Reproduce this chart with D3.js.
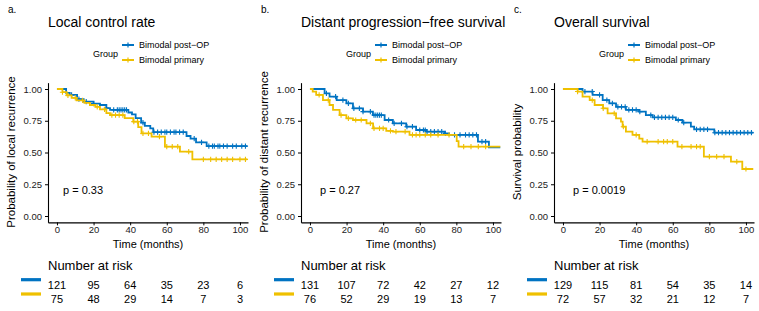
<!DOCTYPE html>
<meta charset="utf-8">
<script src="https://d3js.org/d3.v7.min.js"></script>
<style>
  body { margin: 0; background: #fff; }
  text { font-family: "Liberation Sans", Arial, sans-serif; }
</style>
<body>
<div id="chart"></div>
<script>

// ---- data ---------------------------------------------------------------
var groups = ["Bimodal post\u2212OP", "Bimodal primary"];
var timeTicks = [0, 20, 40, 60, 80, 100];
var survTicks = [0, 0.25, 0.5, 0.75, 1];

var panelTags = ["a.", "b.", "c."];
var titles = ["Local control rate", "Distant progression\u2212free survival", "Overall survival"];
var yLabels = ["Probability of local recurrence", "Probability of distant recurrence", "Survival probability"];
var pValues = ["p = 0.33", "p = 0.27", "p = 0.0019"];

// drops of the step curves: [time, survival]
var localPostOP = [[5,0.97],[7,0.953],[11,0.92],[14.6,0.9],[20,0.885],[23.5,0.874],[27,0.85],[29,0.835],[39,0.815],[41,0.8],[43,0.77],[46,0.735],[48,0.71],[51,0.69],[52.6,0.66],[70.8,0.63],[73,0.61],[76,0.58],[81.8,0.55]];
var localPrimary = [[3,0.975],[5.3,0.95],[8,0.93],[10.7,0.91],[15,0.89],[18,0.874],[21,0.86],[23.5,0.84],[27,0.81],[29,0.795],[37,0.77],[41.7,0.743],[44.4,0.7],[46.2,0.65],[51.7,0.625],[59,0.546],[67.2,0.507],[74,0.446]];
var distPostOP = [[8,0.965],[10.7,0.94],[14.6,0.913],[19.9,0.887],[23.5,0.848],[29,0.822],[34.4,0.795],[40.8,0.756],[45.3,0.73],[52.6,0.703],[58,0.677],[63.5,0.664],[73.5,0.65],[76,0.638],[91.8,0.585],[97.8,0.54]];
var distPrimary = [[1.5,0.98],[3.4,0.953],[7.1,0.913],[10.7,0.874],[12.6,0.835],[16.2,0.795],[19.9,0.769],[23.5,0.756],[30.9,0.73],[34.5,0.69],[41.7,0.67],[45.3,0.664],[54.4,0.638],[80.2,0.59],[81.2,0.546]];
var osPostOP = [[10.7,0.98],[16.2,0.953],[21.7,0.913],[25.3,0.887],[29,0.86],[34.4,0.835],[41.7,0.822],[45.3,0.795],[49,0.776],[61.7,0.756],[65.3,0.735],[69.9,0.703],[71.7,0.682],[82.7,0.656]];
var osPrimary = [[8,0.98],[10.7,0.94],[14.6,0.913],[17.3,0.874],[21.9,0.848],[24.4,0.808],[29,0.769],[31.7,0.743],[32.6,0.703],[34.4,0.664],[38,0.638],[41.7,0.61],[43.5,0.585],[62.6,0.546],[77,0.467],[91.8,0.428],[98,0.37]];

// censoring times
var localPostOPCens = [8,12,16,20,27,31,33,34,35,36,37,38,47,53,55,57,59,60,62,64,65,67,69,75,79,83,85,86,88,89,91,93,96,98,101,103];
var localPrimaryCens = [3,6,10,14,22,26,30,32,34,36,42,44,47,50,56,60,63,66,72,80,84,87,90,93,96,100,103];
var distPostOPCens = [9,14,18,21,24,27,29,33,35,36,37,38,39,43,46,50,53,56,60,62,63,64,66,68,70,72,74,79,82,85,87,89,91,94,96];
var distPrimaryCens = [5,10,17,21,25,28,33,35,38,40,44,47,52,56,58,60,63,66,70,76,84,88,92,96];
var osPostOPCens = [12,16,20,24,27,30,32,34,36,38,40,42,48,50,52,54,56,58,60,63,66,73,75,77,79,83,85,87,89,91,93,95,97,99,101,103];
var osPrimaryCens = [8,16,22,28,33,40,46,52,55,57,60,65,70,73,75,80,84,88,95,100];

var curveEnd = [104, 104, 104];

// number at risk
var localRiskPostOP = [121, 95, 64, 35, 23, 6];
var localRiskPrimary = [75, 48, 29, 14, 7, 3];
var distRiskPostOP = [131, 107, 72, 42, 27, 12];
var distRiskPrimary = [76, 52, 29, 19, 13, 7];
var osRiskPostOP = [129, 115, 81, 54, 35, 14];
var osRiskPrimary = [72, 57, 32, 21, 12, 7];

var panels = [
  { steps: [localPostOP, localPrimary], cens: [localPostOPCens, localPrimaryCens], risk: [localRiskPostOP, localRiskPrimary] },
  { steps: [distPostOP, distPrimary], cens: [distPostOPCens, distPrimaryCens], risk: [distRiskPostOP, distRiskPrimary] },
  { steps: [osPostOP, osPrimary], cens: [osPostOPCens, osPrimaryCens], risk: [osRiskPostOP, osRiskPrimary] }
];
var colors = ["#0073C2", "#EFC000"];
var pX = [63, 67, 67];

// ---- drawing ------------------------------------------------------------
var width = 759, height = 311, panelW = 253;

var svg = d3.select("#chart").append("svg")
  .attr("width", width)
  .attr("height", height);
svg.append("rect").attr("width", width).attr("height", height).attr("fill", "#fff");

var x = d3.scaleLinear().domain([-4.9, 104.4]).range([48, 248]);
var y = d3.scaleLinear().domain([-0.05, 1.05]).range([222.35, 82.65]);

function survAt(steps, t) {
  var s = 1;
  steps.forEach(function(d) { if (d[0] <= t) s = d[1]; });
  return s;
}

var line = d3.line()
  .x(function(d) { return x(d[0]); })
  .y(function(d) { return y(d[1]); })
  .curve(d3.curveStepAfter);

var cross = "M-2.6,0H2.6M0,-2.6V2.6";

panels.forEach(function(p, i) {
  var g = svg.append("g").attr("transform", "translate(" + (i * panelW) + ",0)");

  g.append("text").attr("x", 8).attr("y", 13).attr("font-size", 10).attr("fill", "#000").text(panelTags[i]);
  g.append("text").attr("x", 48).attr("y", 27).attr("font-size", 14).attr("fill", "#000").text(titles[i]);

  // legend
  var lg = g.append("g");
  lg.append("text").attr("x", 93).attr("y", 57).attr("font-size", 9).attr("fill", "#000").text("Group");
  groups.forEach(function(name, k) {
    var ly = 45 + k * 15;
    lg.append("line").attr("x1", 122).attr("x2", 134).attr("y1", ly).attr("y2", ly)
      .attr("stroke", colors[k]).attr("stroke-width", 2);
    lg.append("path").attr("d", cross).attr("transform", "translate(128," + ly + ")")
      .attr("stroke", colors[k]).attr("stroke-width", 1.2);
    lg.append("text").attr("x", 139).attr("y", ly + 3.3).attr("font-size", 9).attr("fill", "#000").text(name);
  });

  // axes
  var ya = g.append("g").attr("transform", "translate(48,0)")
    .call(d3.axisLeft(y).tickValues(survTicks).tickFormat(d3.format(".2f")).tickSize(3).tickSizeOuter(0));
  var xa = g.append("g").attr("transform", "translate(0,222.35)")
    .call(d3.axisBottom(x).tickValues(timeTicks).tickSize(3).tickSizeOuter(0));
  [ya, xa].forEach(function(a) {
    a.select(".domain").attr("stroke", "#000").attr("stroke-width", 1.1);
    a.selectAll(".tick line").attr("stroke", "#000");
    a.selectAll(".tick text").attr("font-size", 9.5).attr("fill", "#222")
      .attr("font-family", "Liberation Sans, Arial, sans-serif");
  });
  xa.selectAll(".tick text").attr("y", 5).attr("dy", "0.62em");

  g.append("text").attr("transform", "translate(15,152) rotate(-90)")
    .attr("text-anchor", "middle").attr("font-size", 11.5).attr("fill", "#000").text(yLabels[i]);
  g.append("text").attr("x", 148).attr("y", 247.5).attr("text-anchor", "middle")
    .attr("font-size", 11).attr("fill", "#000").text("Time (months)");

  // curves
  p.steps.forEach(function(steps, k) {
    var pts = [[0, 1]].concat(steps);
    pts.push([curveEnd[i], steps[steps.length - 1][1]]);
    g.append("path").attr("d", line(pts)).attr("fill", "none")
      .attr("stroke", colors[k]).attr("stroke-width", 1.8);
    g.selectAll(null).data(p.cens[k]).enter().append("path")
      .attr("d", cross)
      .attr("transform", function(t) { return "translate(" + x(t) + "," + y(survAt(steps, t)) + ")"; })
      .attr("stroke", colors[k]).attr("stroke-width", 1.1);
  });

  g.append("text").attr("x", pX[i]).attr("y", 194).attr("font-size", 11).attr("fill", "#000").text(pValues[i]);

  // risk table
  g.append("text").attr("x", 48).attr("y", 269.5).attr("font-size", 13).attr("fill", "#000").text("Number at risk");
  p.risk.forEach(function(vals, k) {
    var ry = 279.7 + k * 14.3;
    g.append("rect").attr("x", 21).attr("y", ry - 1.6).attr("width", 20).attr("height", 3.2).attr("fill", colors[k]);
    g.selectAll(null).data(vals).enter().append("text")
      .attr("x", function(d, j) { return x(timeTicks[j]); })
      .attr("y", ry + 9)
      .attr("text-anchor", "middle").attr("font-size", 11).attr("fill", "#000")
      .text(function(d) { return d; });
  });
});

</script>
</body>
